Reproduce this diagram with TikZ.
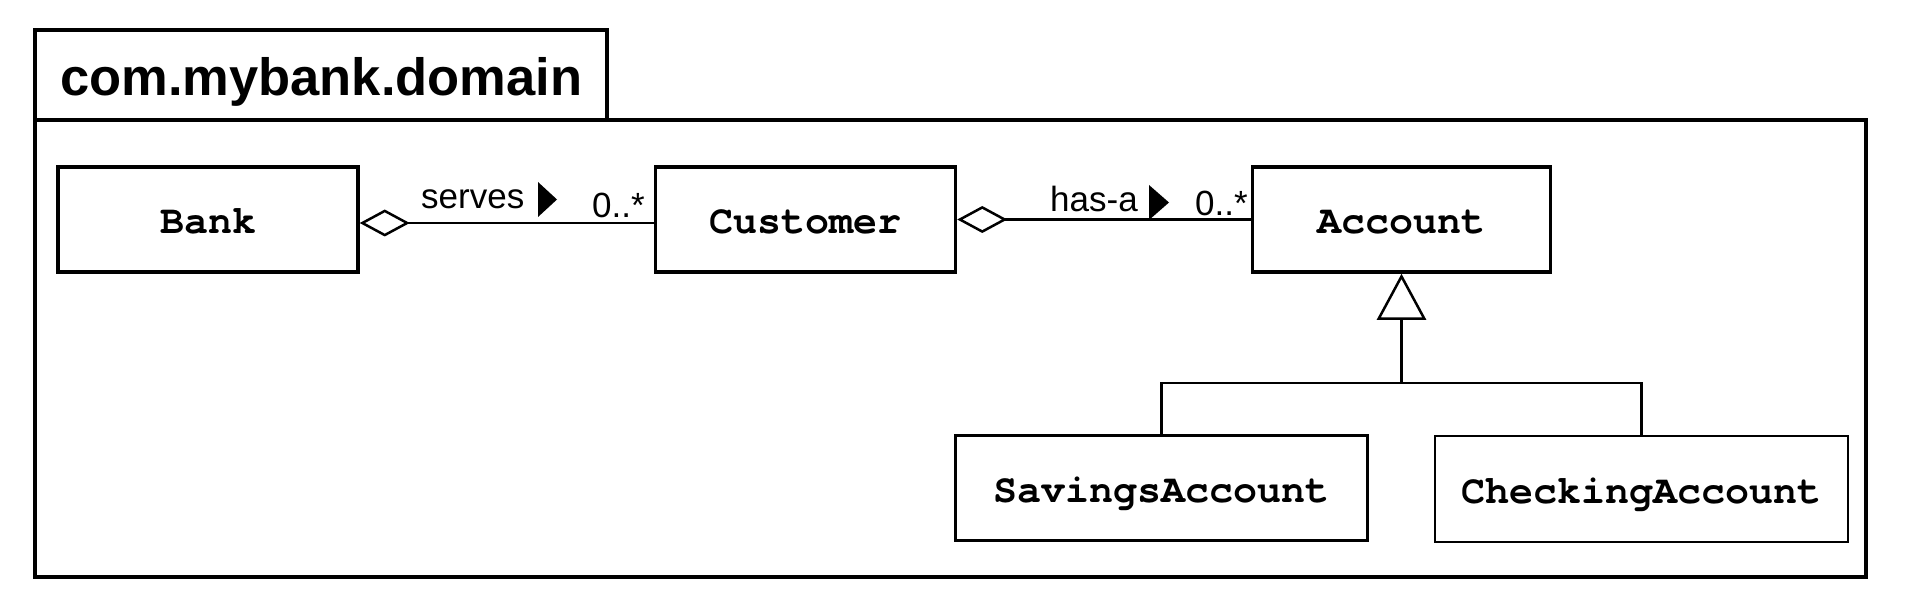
\documentclass[tikz,border=0pt]{standalone}
\usepackage{fontspec}
\setmainfont{Liberation Sans}
\newfontfamily\umlmono{TeX Gyre Cursor}
\usetikzlibrary{arrows.meta}
\tikzset{
  frameline/.style={line width=4.5pt},
  cls/.style={draw, line width=3.5pt, inner sep=0pt, font=\umlmono\bfseries\fontsize{40}{40}\selectfont, text height=28pt, text depth=0pt},
  assoc/.style={line width=2.5pt, {Diamond[open,length=50pt,width=27pt]}-},
  gen/.style={line width=2.5pt},
  lbl/.style={inner sep=0pt, anchor=base west, font=\fontsize{35}{35}\selectfont},
  dirtri/.style={fill=black}
}
\begin{document}
\begin{tikzpicture}[x=1pt,y=-1pt]
\useasboundingbox (0,0) rectangle (1906,604);
% package frame
\draw[frameline] (35,30) rectangle (607,120);
\draw[frameline] (35,120) rectangle (1866,577);
\node[inner sep=0pt, anchor=base west, font=\bfseries\fontsize{52.5}{52.5}\selectfont] (title) at (60,96) {com.mybank.domain};
% classes
\node[cls, minimum width=300pt, minimum height=105pt] (bank) at (208,219.5) {Bank};
\node[cls, minimum width=300pt, minimum height=105pt] (cust) at (805.5,219.5) {Customer};
\node[cls, minimum width=298pt, minimum height=105pt] (acct) at (1401.5,219.5) {Account};
\node[cls, minimum width=412pt, minimum height=105pt] (sav) at (1161.5,488) {SavingsAccount};
\node[cls, line width=2.2pt, minimum width=413pt, minimum height=106pt] (chk) at (1641.5,489) {CheckingAccount};
% associations
\draw[assoc] ([yshift=-3.5pt]bank.east) -- ([yshift=-3.5pt]cust.west);
\draw[assoc] (cust.east) -- (acct.west);
\node[lbl] (serves) at (421,209) {serves};
\fill[dirtri] (538,182) -- (557,199.5) -- (538,217) -- cycle;
\node[lbl] (m1) at (592,218) {0..*};
\node[lbl] (hasa) at (1050,212) {has-a};
\fill[dirtri] (1149,185) -- (1169,202.5) -- (1149,220) -- cycle;
\node[lbl] (m2) at (1195,215) {0..*};
% generalization
\coordinate (j) at (1401.5,383);
\draw[gen] (sav.north) -- (sav.north |- j) -- (chk.north |- j) -- (chk.north);
\draw[gen, -{Triangle[open,length=46pt,width=49pt]}] (j) -- (acct.south);
\end{tikzpicture}
\end{document}
